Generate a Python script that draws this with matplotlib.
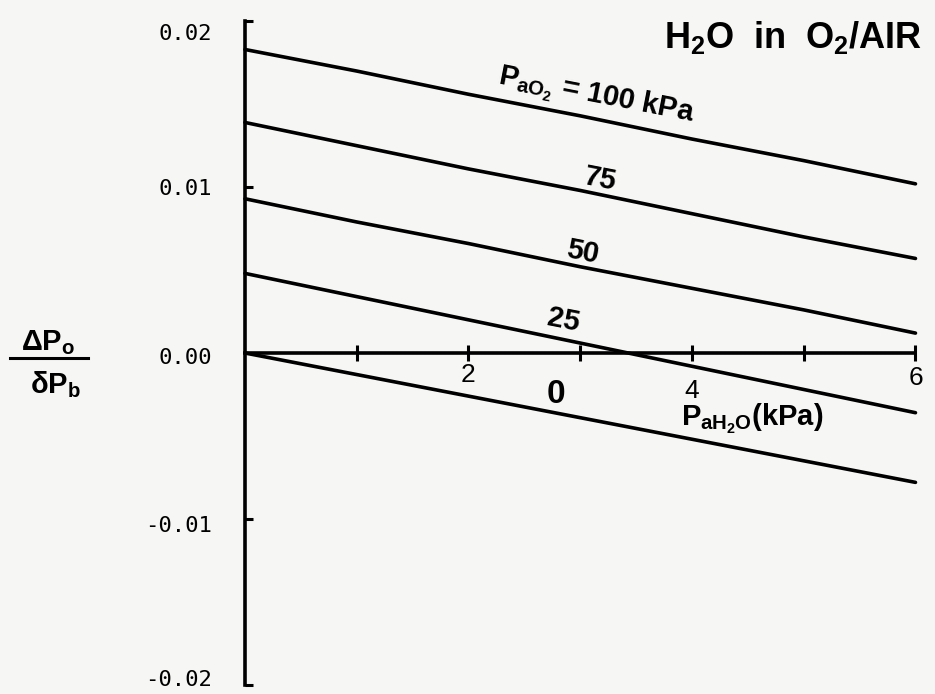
import matplotlib.pyplot as plt
import matplotlib.transforms as mtransforms
import numpy as np

# H2O in O2/AIR: sensor output vs water vapour partial pressure
plt.rcParams['mathtext.fontset'] = 'custom'
plt.rcParams['mathtext.rm'] = 'Liberation Sans:bold'
plt.rcParams['mathtext.it'] = 'Liberation Sans:bold'
plt.rcParams['mathtext.bf'] = 'Liberation Sans:bold'
plt.rcParams['axes.unicode_minus'] = False

# water vapour pressure (kPa)
p_h2o = [0, 1, 2, 3, 4, 5, 6]

# delta Po / delta Pb for each oxygen partial pressure
dp_100 = [0.0183, 0.0170, 0.0156, 0.0143, 0.0129, 0.0116, 0.0102]
dp_75 = [0.0139, 0.0125, 0.0111, 0.0098, 0.0084, 0.0070, 0.0057]
dp_50 = [0.0093, 0.0079, 0.0066, 0.0052, 0.0039, 0.0026, 0.0012]
dp_25 = [0.0048, 0.0034, 0.0020, 0.0006, -0.0008, -0.0022, -0.0036]
dp_0 = [0.0000, -0.0013, -0.0026, -0.0039, -0.0052, -0.0065, -0.0078]

y_ticks = [-0.02, -0.01, 0.0, 0.01, 0.02]
y_ticklabels = ['-0.02', '-0.01', '0.00', '0.01', '0.02']
x_ticks = [1, 2, 3, 4, 5, 6]

W, H = 935, 694
fig = plt.figure(figsize=(W / 100, H / 100), dpi=100)
fig.patch.set_facecolor('#f6f6f4')
ax = fig.add_axes([245 / W, 1 / H, (930 - 245) / W, 680 / H])
ax.set_facecolor('none')

for ys in [dp_100, dp_75, dp_50, dp_25, dp_0]:
    ax.plot(p_h2o, ys, color='black', lw=2.6, solid_capstyle='round', clip_on=False)

ax.set_xlim(0, 6.13)
ax.set_ylim(-0.0205, 0.0205)

# axes drawn through the origin
for s in ['top', 'right']:
    ax.spines[s].set_visible(False)
ax.spines['left'].set_position(('data', 0))
ax.spines['bottom'].set_position(('data', 0))
ax.spines['left'].set_bounds(-0.02, 0.02)
ax.spines['bottom'].set_bounds(0, 6)
for s in ['left', 'bottom']:
    ax.spines[s].set_linewidth(2.6)

ax.set_yticks(y_ticks)
ax.set_yticklabels(y_ticklabels, family='DejaVu Sans Mono', fontsize=16)
ax.tick_params(axis='y', direction='in', length=6, width=2.2, pad=24)
# nudge the end labels inward a little
shifts = {'-0.02': 7, '-0.01': -5, '0.00': -3, '0.01': 0, '0.02': -11}
for lbl in ax.get_yticklabels():
    dy = shifts.get(lbl.get_text(), 0)
    lbl.set_transform(lbl.get_transform() +
                      mtransforms.ScaledTranslation(0, dy / 100, fig.dpi_scale_trans))
ax.set_xticks(x_ticks)
ax.set_xticklabels([])
ax.tick_params(axis='x', direction='inout', length=11, width=2.2)

# x tick numbers
num = dict(ha='center', va='center', fontsize=19, family='Liberation Sans')
ax.text(2, -0.0013, '2', **num)
ax.text(4, -0.0023, '4', **num)
ax.text(6, -0.0015, '6', **num)

# curve labels
lab = dict(ha='center', va='center', fontsize=21, family='Liberation Sans',
           fontweight='bold', rotation=-11, rotation_mode='anchor')
ax.text(3.14, 0.0155, r'$P_{aO_2}$ = 100 kPa', **lab)
ax.text(3.18, 0.0105, '75', **lab)
ax.text(3.02, 0.0061, '50', **lab)
ax.text(2.85, 0.0020, '25', **lab)
ax.text(2.78, -0.0025, '0', ha='center', va='center', fontsize=24,
        family='Liberation Sans', fontweight='bold')

ax.text(4.54, -0.0040, r'$P_{aH_2O}$(kPa)', ha='center', va='center', fontsize=21,
        family='Liberation Sans', fontweight='bold')

fig.text(793 / W, 1 - 37 / H, r'$H_2O$  in  $O_2$/AIR', ha='center', va='center',
         fontsize=26, family='Liberation Sans', fontweight='bold')

# y label as a fraction
fig.text(48 / W, 1 - 343 / H, r'$\Delta P_o$', ha='center', va='center', fontsize=21)
fig.add_artist(plt.Line2D([10 / W, 88 / W], [1 - 358 / H, 1 - 358 / H],
                          color='black', lw=2.2, transform=fig.transFigure))
fig.text(55 / W, 1 - 385 / H, r'$\delta P_b$', ha='center', va='center', fontsize=21)

fig.savefig('out.png', dpi=100, facecolor=fig.get_facecolor())
